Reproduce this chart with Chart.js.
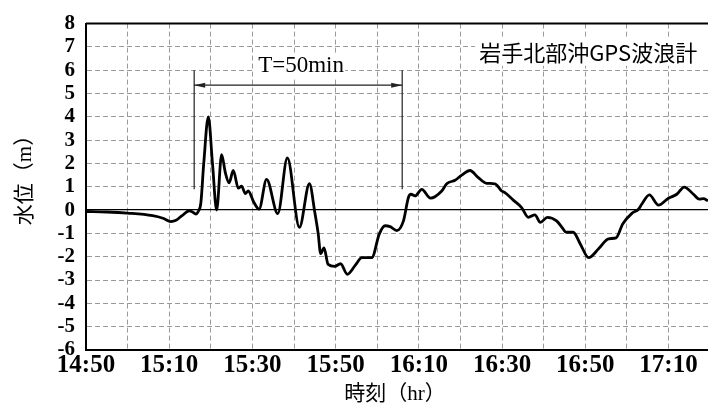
<!DOCTYPE html>
<html lang="ja">
<head>
    <meta charset="UTF-8">
    <title>岩手北部沖GPS波浪計</title>
    <script src="https://cdn.jsdelivr.net/npm/chart.js"></script>
    <style>
        html, body { margin: 0; padding: 0; background: #fff; }
    </style>
</head>
<body>
    <canvas id="grafik" width="708" height="409"></canvas>

    <script>
        // 14:50 からの経過時間（分）
        const timeMin = [
            0, 5, 10, 16, 18.5, 20.4, 21.5, 23, 24.8, 25.6, 26.4, 27.0, 27.6, 28.3, 29.4, 30.4,
            31.4, 32.6, 33.5, 34.4, 35.4, 36.6, 37.4, 38.3, 39.0, 40.3, 41.6, 43.4, 46.1, 48.4,
            51.3, 53.7, 55.0, 55.8, 56.4, 57.2, 58.2, 59.8, 61.2, 62.8, 64.7, 66.3, 68.7, 70.5,
            71.9, 73.1, 74.7, 76.3, 77.5, 78.1, 79.1, 80.7, 82.8, 85.5, 86.7, 88.7, 90.3, 92.3,
            94.3, 96.3, 98.3, 99.9, 100.7, 102.7, 104.7, 106.3, 107.9, 109.2, 110.9, 113.1, 114.4,
            115.4, 117.1, 118.8, 120.8, 123.2, 125.6, 127.4, 129.0, 131.2, 132.8, 133.6, 135.4,
            137.6, 140.0, 142.0, 143.8, 146.0, 147.4, 148.4, 149.5
        ];
        // 水位 (m)
        const waterLevel = [
            -0.06, -0.08, -0.13, -0.24, -0.35, -0.49, -0.45, -0.25, -0.03, -0.08, -0.17, -0.05, 0.3, 2.0, 4.0, 2.0,
            0.0, 2.38, 1.6, 1.17, 1.7, 0.94, 1.03, 0.71, 0.82, 0.35, 0.04, 1.32, -0.15, 2.24,
            -0.74, 1.13, -0.1, -1.0, -1.87, -1.62, -2.33, -2.41, -2.3, -2.75, -2.37, -2.04, -2.04, -1.02,
            -0.67, -0.71, -0.88, -0.46, 0.54, 0.68, 0.61, 0.89, 0.51, 0.82, 1.13, 1.28, 1.5, 1.7,
            1.39, 1.15, 1.13, 0.82, 0.75, 0.43, 0.11, -0.31, -0.2, -0.53, -0.31, -0.46, -0.74,
            -0.95, -0.95, -1.45, -2.04, -1.66, -1.23, -1.19, -0.6, -0.14, 0.04, 0.26, 0.65,
            0.21, 0.51, 0.68, 0.99, 0.68, 0.47, 0.49, 0.40
        ];
        // 目盛ラベル（20分ごと）、格子は10分ごと
        const xTickLabels = ['14:50', '15:10', '15:30', '15:50', '16:10', '16:30', '16:50', '17:10'];
        const xGridStep = 10;

        const stationName = '岩手北部沖GPS波浪計';
        const periodText = 'T=50min';
        const periodStart = 26;   // 分
        const periodEnd = 76;     // 分
        const xTitle = '時刻（hr）';
        const yTitle = '水位（m）';

        const serif = '"Liberation Serif", "Times New Roman", serif';
        const cjk = '"Liberation Serif", "Noto Sans CJK JP", serif';

        // 注記・枠線などを描くプラグイン
        const extras = {
            id: 'extras',
            beforeDatasetsDraw(chart) {
                const { ctx, chartArea: a, scales: { x, y } } = chart;
                ctx.save();
                // 文字の下の白い背景
                ctx.fillStyle = '#fff';
                ctx.fillRect(x.getPixelForValue(40.2), y.getPixelForValue(6.7), 92, 24);
                ctx.fillRect(x.getPixelForValue(93.5), y.getPixelForValue(7.35), 240, 27);
                // 上枠
                ctx.strokeStyle = '#000';
                ctx.lineWidth = 2;
                ctx.beginPath();
                ctx.moveTo(a.left, a.top);
                ctx.lineTo(a.right, a.top);
                ctx.stroke();
                ctx.restore();
            },
            afterDatasetsDraw(chart) {
                const { ctx, scales: { x, y } } = chart;
                const x1 = x.getPixelForValue(periodStart);
                const x2 = x.getPixelForValue(periodEnd);
                const yTop = y.getPixelForValue(6.0);
                const yBot = y.getPixelForValue(0.9);
                const yArr = y.getPixelForValue(5.36);
                ctx.save();
                ctx.strokeStyle = '#222';
                ctx.fillStyle = '#222';
                ctx.lineWidth = 1.2;
                ctx.beginPath();
                ctx.moveTo(x1, yTop); ctx.lineTo(x1, yBot);
                ctx.moveTo(x2, yTop); ctx.lineTo(x2, yBot);
                ctx.moveTo(x1, yArr); ctx.lineTo(x2, yArr);
                ctx.stroke();
                // 矢印
                ctx.beginPath();
                ctx.moveTo(x1, yArr); ctx.lineTo(x1 + 11, yArr - 2.5); ctx.lineTo(x1 + 11, yArr + 2.5);
                ctx.closePath();
                ctx.moveTo(x2, yArr); ctx.lineTo(x2 - 11, yArr - 2.5); ctx.lineTo(x2 - 11, yArr + 2.5);
                ctx.closePath();
                ctx.fill();

                ctx.fillStyle = '#000';
                ctx.textAlign = 'center';
                ctx.textBaseline = 'middle';
                ctx.font = '23px ' + serif;
                ctx.fillText(periodText, x.getPixelForValue(51.7), y.getPixelForValue(6.2));
                ctx.font = '22px "Noto Sans CJK JP", sans-serif';
                ctx.fillText(stationName, x.getPixelForValue(120.7), y.getPixelForValue(6.77));
                ctx.restore();
            },
            afterDraw(chart) {
                const { ctx } = chart;
                ctx.save();
                ctx.fillStyle = '#000';
                ctx.textAlign = 'center';
                ctx.textBaseline = 'middle';
                ctx.font = '21px ' + cjk;
                ctx.fillText(xTitle, 395, 394);
                ctx.translate(25, 175);
                ctx.rotate(-Math.PI / 2);
                ctx.fillText(yTitle, 0, 0);
                ctx.restore();
            }
        };

        const ctx1 = document.getElementById('grafik').getContext('2d');
        new Chart(ctx1, {
            type: 'line',
            data: {
                datasets: [{
                    data: timeMin.map((t, i) => ({ x: t, y: waterLevel[i] })),
                    borderColor: '#000',
                    borderWidth: 2.8,
                    pointRadius: 0,
                    cubicInterpolationMode: 'monotone',
                    fill: false
                }]
            },
            options: {
                responsive: false,
                animation: false,
                devicePixelRatio: 1,
                layout: { padding: { top: 21, left: 0, right: 0, bottom: 0 } },
                plugins: { legend: { display: false }, tooltip: { enabled: false } },
                scales: {
                    x: {
                        type: 'linear',
                        min: 0,
                        max: 149.5,
                        afterBuildTicks: scale => {
                            const ticks = [];
                            for (let v = 0; v <= (xTickLabels.length - 1) * 2 * xGridStep; v += xGridStep) {
                                ticks.push({ value: v });
                            }
                            scale.ticks = ticks;
                        },
                        afterFit: scale => { scale.height = 59; },
                        ticks: {
                            autoSkip: false,
                            maxRotation: 0,
                            padding: 1,
                            color: '#000',
                            font: { family: serif, size: 25, weight: 'bold' },
                            callback: v => (v % (2 * xGridStep) === 0 ? xTickLabels[v / (2 * xGridStep)] : '')
                        },
                        grid: { color: '#9a9a9a', lineWidth: 1, drawTicks: false },
                        border: { display: true, color: '#000', width: 2, dash: [5, 3] }
                    },
                    y: {
                        min: -6,
                        max: 8,
                        afterFit: scale => { scale.width = 86; },
                        ticks: {
                            stepSize: 1,
                            autoSkip: false,
                            padding: 11,
                            color: '#000',
                            font: { family: serif, size: 21, weight: 'bold' }
                        },
                        grid: {
                            color: c => (c.tick && c.tick.value === 0 ? '#000' : '#9a9a9a'),
                            lineWidth: c => (c.tick && c.tick.value === 0 ? 1.3 : 1),
                            drawTicks: false
                        },
                        border: {
                            display: true, color: '#000', width: 2,
                            dash: c => (c.tick && c.tick.value === 0 ? [] : [5, 3])
                        }
                    }
                }
            },
            plugins: [extras]
        });
    </script>
</body>
</html>
